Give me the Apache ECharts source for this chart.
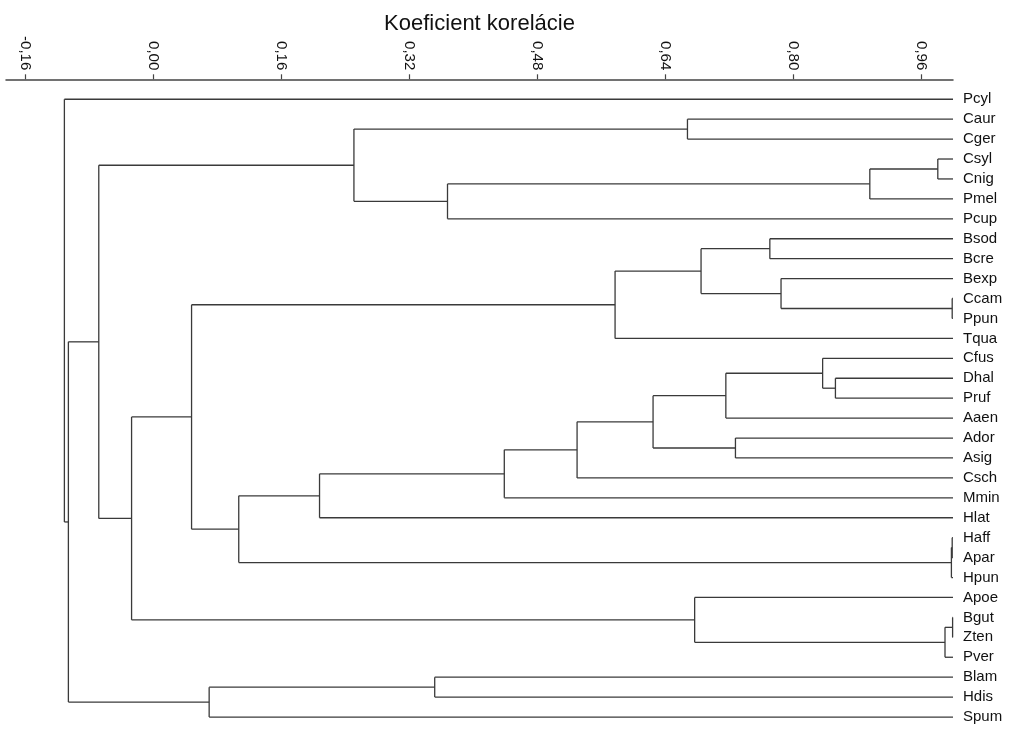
<!DOCTYPE html>
<html><head><meta charset="utf-8">
<script src="https://cdn.jsdelivr.net/npm/echarts@6/dist/echarts.min.js"></script>
<style>html,body{margin:0;padding:0;background:#fff}#c{width:1009px;height:729px}</style>
</head><body><div id="c"></div>
<script>
// Leaves, top to bottom
const leaves = ['Pcyl','Caur','Cger','Csyl','Cnig','Pmel','Pcup','Bsod','Bcre','Bexp','Ccam','Ppun','Tqua',
  'Cfus','Dhal','Pruf','Aaen','Ador','Asig','Csch','Mmin','Hlat','Haff','Apar','Hpun','Apoe','Bgut','Zten','Pver',
  'Blam','Hdis','Spum'];
// Merge steps (node k is called 'N'+k)
const mergeA = ['Csyl','N0','N1','Caur','N3','Bsod','Ccam','Bexp','N5','N8','Dhal','Cfus','N11','Ador','N12','N14',
  'N15','N16','Haff','N18','N17','N9','Bgut','N22','Apoe','N21','N4','Blam','N27','N26','Pcyl'];
const mergeB = ['Cnig','Pmel','Pcup','Cger','N2','Bcre','Ppun','N6','N7','Tqua','Pruf','N10','Aaen','Asig','N13','Csch',
  'Mmin','Hlat','Apar','Hpun','N19','N20','Zten','Pver','N23','N24','N25','Hdis','Spum','N28','N29'];
const mergeHeight = [0.981,0.896,0.368,0.668,0.251,0.771,0.999,0.785,0.685,0.5775,0.853,0.837,0.716,0.728,0.625,0.530,
  0.439,0.208,0.999,0.998,0.107,0.048,0.9995,0.990,0.677,-0.027,-0.068,0.352,0.070,-0.106,-0.111];
const leafHeight = 1.0;
const tickValues = [-0.16,0.00,0.16,0.32,0.48,0.64,0.80,0.96];
const tickLabels = ['-0,16','0,00','0,16','0,32','0,48','0,64','0,80','0,96'];
const axisTitle = 'Koeficient korelácie';

const pos = {};
leaves.forEach((n,i)=>{ pos[n] = {x:leafHeight, y:i}; });
const segments = [];
mergeA.forEach((a,k)=>{
  const b = mergeB[k], h = mergeHeight[k];
  const pa = pos[a], pb = pos[b];
  segments.push([h, pa.y, pa.x, pa.y]);
  segments.push([h, pb.y, pb.x, pb.y]);
  segments.push([h, pa.y, h, pb.y]);
  pos['N'+k] = {x:h, y:(pa.y+pb.y)/2};
});

const FONT = '"Liberation Sans", Arial, sans-serif';
const chart = echarts.init(document.getElementById('c'));
chart.setOption({
  animation:false,
  backgroundColor:'#fff',
  grid:{left:6,right:56,top:79.3,bottom:2},
  xAxis:{type:'value', position:'top', min:-0.184, max:1.0,
    name:axisTitle, nameLocation:'middle', nameGap:44, nameMoveOverlap:false,
    nameTextStyle:{fontSize:22,color:'#111',fontFamily:FONT},
    axisLine:{show:true,onZero:false,lineStyle:{color:'#444',width:1.5}},
    axisTick:{show:true,length:5,customValues:tickValues,lineStyle:{color:'#444',width:1.2}},
    axisLabel:{customValues:tickValues,rotate:90,margin:9,fontSize:15,color:'#111',fontFamily:FONT,
      formatter:(v)=>{ const i = tickValues.findIndex(t=>Math.abs(t-v)<1e-6); return i>=0?tickLabels[i]:''; }},
    splitLine:{show:false}},
  yAxis:{type:'value', inverse:true, position:'right', min:-1, max:31.5, interval:1,
    axisLine:{show:false,onZero:false}, axisTick:{show:false}, splitLine:{show:false},
    axisLabel:{margin:10,fontSize:15,color:'#111',fontFamily:FONT,
      formatter:(v)=>(Number.isInteger(v)&&v>=0&&v<leaves.length)?leaves[v]:''}},
  series:[{type:'custom', silent:true, data:segments, encode:{x:[0,2],y:[1,3]},
    renderItem:(params,api)=>{
      const p1 = api.coord([api.value(0),api.value(1)]);
      const p2 = api.coord([api.value(2),api.value(3)]);
      return {type:'line', shape:{x1:p1[0],y1:p1[1],x2:p2[0],y2:p2[1]},
        style:{stroke:'#3a3a3a',lineWidth:1.3}};
    }}]
});
</script></body></html>
